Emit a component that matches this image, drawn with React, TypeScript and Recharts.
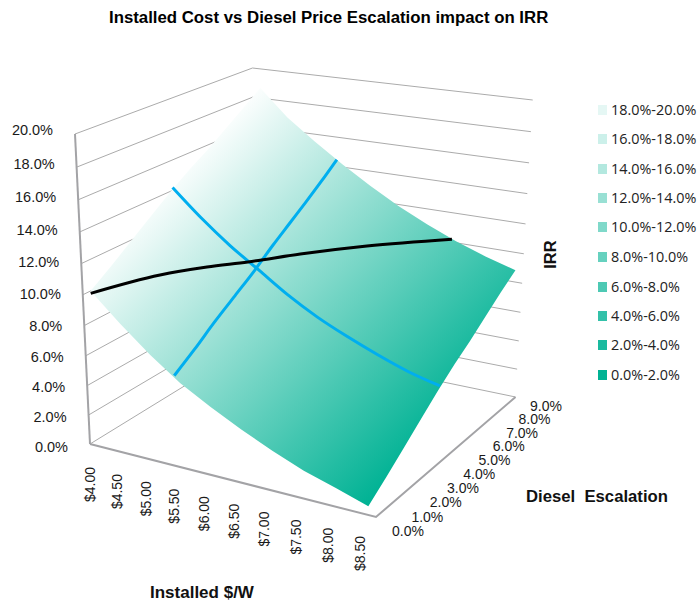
/**
 * Installed cost vs diesel price escalation - IRR surface
 * Recharts has no 3D series, so the surface is projected to plane coordinates
 * and every outline, wall line and tick is drawn as a Scatter series.
 */

import { ScatterChart, Scatter, XAxis, YAxis } from 'recharts';

const WIDTH = 699;
const HEIGHT = 603;

const COSTS = [4.0, 4.5, 5.0, 5.5, 6.0, 6.5, 7.0, 7.5, 8.0, 8.5];
const ESCALATIONS = [0, 1, 2, 3, 4, 5, 6, 7, 8, 9];
const IRR_TICKS = [0, 2, 4, 6, 8, 10, 12, 14, 16, 18, 20];

// surface edges, IRR in %
const IRR_AT_ESC_0 = [10.35, 8.6, 7.0, 5.6, 4.5, 3.5, 2.6, 1.8, 1.2, 0.56];
const IRR_AT_ESC_9 = [18.7, 16.9, 15.5, 14.2, 13.0, 11.9, 10.95, 10.1, 9.4, 8.8];
const IRR_AT_COST_4 = [10.35, 11.3, 12.3, 13.3, 14.3, 15.2, 16.0, 16.9, 17.8, 18.7];
const IRR_AT_COST_85 = [0.56, 1.5, 2.5, 3.5, 4.5, 5.4, 6.2, 7.1, 8.0, 8.8];

// cuts across the surface: one along escalation, one along cost
const CUT_COSTS = [5.4, 5.4, 5.42, 5.44, 5.46, 5.46, 5.45, 5.43, 5.41, 5.4];
const IRR_AT_CUT_COST = [6.0, 6.9, 8.0, 9.0, 10.0, 11.0, 11.86, 12.66, 13.5, 14.46];
const CUT_ESC = 4.1;
const IRR_AT_CUT_ESC = [14.5, 12.8, 11.3, 10.0, 8.7, 7.6, 6.7, 5.9, 5.2, 4.7];

// 10.2% IRR contour
const CONTOUR_IRR = 10.2;
const CONTOUR_COSTS = [4.0, 4.42, 4.83, 5.24, 5.74, 6.44, 7.43];
const CONTOUR_ESCS = [0, 2.18, 3.39, 4.33, 5.67, 7.24, 9];

const LEGEND_LABELS = [
  '18.0%-20.0%',
  '16.0%-18.0%',
  '14.0%-16.0%',
  '12.0%-14.0%',
  '10.0%-12.0%',
  '8.0%-10.0%',
  '6.0%-8.0%',
  '4.0%-6.0%',
  '2.0%-4.0%',
  '0.0%-2.0%',
];
const LEGEND_COLORS = [
  '#E5F7F4',
  '#CCF0EA',
  '#B3E8DF',
  '#99E0D4',
  '#80D9CA',
  '#66D1BF',
  '#4DC9B4',
  '#33C1A9',
  '#1ABA9F',
  '#00B294',
];
const LEGEND_ROWS = [110, 139, 169, 198, 227, 257, 287, 316, 345, 375];

const HELVETICA = '"Liberation Sans", Arial, sans-serif';
const AXIS_GRAY = '#A3A3A6';
const GRID_GRAY = '#ABABAB';
const CUT_BLUE = '#00AEEF';

// perspective of the plot box: u, v, z run 0..1 along cost, escalation, IRR
function projectBox(u: number, v: number, z: number) {
  const w = 1 - 0.09276 * u + 0.1448 * v - 0.07227 * z;
  return {
    x: (251.12 * u + 201.24 * v - 20.42 * z + 90) / w,
    y: (25.04 * u - 51.38 * v - 319.68 * z + 444) / w,
  };
}

const costToU = (cost: number) => 0.03 + 0.21 * (cost - 4);
const project = (cost: number, esc: number, irr: number) =>
  projectBox(costToU(cost), esc / 9, irr / 20);

const costEdge = (esc: number, irrs: number[]) => COSTS.map((c, i) => project(c, esc, irrs[i]));
const escEdge = (cost: number, irrs: number[]) => ESCALATIONS.map((e, i) => project(cost, e, irrs[i]));

const surfaceOutline = [
  ...costEdge(0, IRR_AT_ESC_0),
  ...escEdge(8.5, IRR_AT_COST_85),
  ...costEdge(9, IRR_AT_ESC_9).reverse(),
  ...escEdge(4, IRR_AT_COST_4).reverse(),
];

const cutAlongEsc = ESCALATIONS.map((e, i) => project(CUT_COSTS[i], e, IRR_AT_CUT_COST[i]));
const contour = CONTOUR_COSTS.map((c, i) => project(c, CONTOUR_ESCS[i], CONTOUR_IRR));

const costTicks = COSTS.map((c) => {
  const p = project(c, 0, 0);
  return { x: p.x - 8, y: p.y + 21, label: `$${c.toFixed(2)}` };
});
const escTicks = ESCALATIONS.map((e) => {
  const v = e / 9;
  const p = projectBox(1, v, 0);
  // labels fan in slightly toward the far end of the axis
  return {
    x: p.x + 16 + 18 * v - 19.5 * v * v,
    y: p.y + 14.5 + 4 * v - 9.5 * v * v,
    label: `${e.toFixed(1)}%`,
  };
});
const irrTicks = IRR_TICKS.map((t) => {
  const p = projectBox(0, 0, t / 20);
  return { x: p.x - 22, y: p.y + 3 - 0.35 * t, label: `${t.toFixed(1)}%` };
});

const NoMark = () => <g />;

const CostTick = ({ cx, cy, payload }: any) => (
  <text
    x={cx}
    y={cy}
    transform={`rotate(-90 ${cx} ${cy})`}
    textAnchor="end"
    dominantBaseline="central"
    fontFamily={HELVETICA}
    fontSize={14}
    fill="#1a1a1a"
  >
    {payload.label}
  </text>
);

const EscTick = ({ cx, cy, payload }: any) => (
  <text x={cx} y={cy} dominantBaseline="central" fontFamily={HELVETICA} fontSize={14} fill="#1a1a1a">
    {payload.label}
  </text>
);

const IrrTick = ({ cx, cy, payload }: any) => (
  <text
    x={cx}
    y={cy}
    textAnchor="end"
    dominantBaseline="central"
    fontFamily={HELVETICA}
    fontSize={14.5}
    fill="#1a1a1a"
  >
    {payload.label}
  </text>
);

// one straight or curved run through plot points, with no point markers
function path(key: string, data: { x: number; y: number }[], line: object, joint = 'linear') {
  return (
    <Scatter
      key={key}
      data={data}
      line={line}
      lineJointType={joint as any}
      shape={NoMark}
      isAnimationActive={false}
    />
  );
}

export default function App() {
  const grid = { stroke: GRID_GRAY, strokeWidth: 1 };
  const axis = { stroke: AXIS_GRAY, strokeWidth: 2 };
  const cut = { stroke: CUT_BLUE, strokeWidth: 3 };

  return (
    <div style={{ position: 'absolute', left: 0, top: 0, width: WIDTH, height: HEIGHT, background: '#fff' }}>
      <ScatterChart width={WIDTH} height={HEIGHT} margin={{ top: 0, right: 0, bottom: 0, left: 0 }}>
        <defs>
          <linearGradient id="surfaceFill" gradientUnits="userSpaceOnUse" x1={170} y1={172} x2={438} y2={433}>
            <stop offset="0%" stopColor="#FFFFFF" />
            <stop offset="100%" stopColor="#00B294" />
          </linearGradient>
        </defs>
        <XAxis type="number" dataKey="x" domain={[0, WIDTH]} hide />
        <YAxis type="number" dataKey="y" domain={[0, HEIGHT]} reversed hide />

        {IRR_TICKS.map((t) =>
          path(`left-wall-${t}`, [projectBox(0, 0, t / 20), projectBox(0, 1, t / 20)], grid),
        )}
        {IRR_TICKS.map((t) =>
          path(`right-wall-${t}`, [projectBox(0, 1, t / 20), projectBox(1, 1, t / 20)], grid),
        )}
        {path('irr-axis', [projectBox(0, 0, 0), projectBox(0, 0, 1)], axis)}
        {path('floor-edges', [projectBox(0, 0, 0), projectBox(1, 0, 0), projectBox(1, 1, 0)], axis)}

        {path('surface', surfaceOutline, { stroke: 'none', fill: 'url(#surfaceFill)' })}

        {path('cut-along-esc', cutAlongEsc, cut, 'monotoneX')}
        {path('cut-along-cost', costEdge(CUT_ESC, IRR_AT_CUT_ESC), cut, 'monotoneX')}
        {path('contour', contour, { stroke: '#000', strokeWidth: 3 }, 'monotoneX')}

        <Scatter data={costTicks} shape={CostTick} isAnimationActive={false} />
        <Scatter data={escTicks} shape={EscTick} isAnimationActive={false} />
        <Scatter data={irrTicks} shape={IrrTick} isAnimationActive={false} />

        <text x={109} y={23} fontFamily={HELVETICA} fontWeight="bold" fontSize={16.8} fill="#000">
          Installed Cost vs Diesel Price Escalation impact on IRR
        </text>
        <text x={150} y={598} fontFamily={HELVETICA} fontWeight="bold" fontSize={17} fill="#111">
          Installed $/W
        </text>
        <text x={526} y={502} fontFamily={HELVETICA} fontWeight="bold" fontSize={16.7} fill="#111" xmlSpace="preserve">
          {'Diesel  Escalation'}
        </text>
        <text
          x={556}
          y={254.5}
          transform="rotate(-90 556 254.5)"
          textAnchor="middle"
          fontFamily={HELVETICA}
          fontWeight="bold"
          fontSize={16.5}
          fill="#111"
        >
          IRR
        </text>

        {LEGEND_LABELS.map((label, i) => (
          <g key={label}>
            <rect x={598} y={LEGEND_ROWS[i] - 5} width={9} height={10} fill={LEGEND_COLORS[i]} />
            <text
              x={611}
              y={LEGEND_ROWS[i] - 0.5}
              dominantBaseline="central"
              fontFamily='"Open Sans", sans-serif'
              fontSize={14.4}
              fill="#222"
            >
              {label}
            </text>
          </g>
        ))}
      </ScatterChart>
    </div>
  );
}
